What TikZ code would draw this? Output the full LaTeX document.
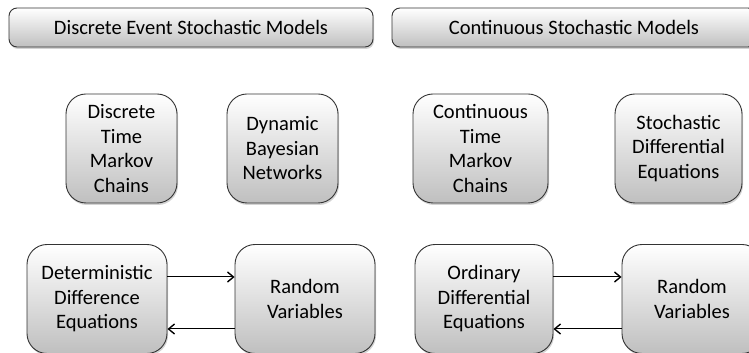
\documentclass[tikz,border=0pt]{standalone}
\usepackage{fontspec}
\setmainfont{Carlito}
\usepackage{tikz}
\usetikzlibrary{shadows,arrows.meta}

\begin{document}
\begin{tikzpicture}[x=1pt,y=1pt]
        \tikzstyle{every node}=[draw=black!80, line width=0.9pt, top color=white, bottom color=black!25,
            drop shadow={shadow xshift=1pt, shadow yshift=-2pt, opacity=0.35},
            text=black, align=center, font=\fontsize{20.5}{24.5}\selectfont]
        \tikzstyle{header}=[rounded corners=8pt, minimum width=364pt, minimum height=39pt]
        \tikzstyle{model}=[rounded corners=20pt, minimum height=109pt]
        \tikzstyle{link}=[draw=black, line width=1pt, -{Straight Barb[length=6pt,width=10pt,line width=1.4pt]}]

        \useasboundingbox (0,0) rectangle (749,353);

        \node (dsm) [header] at (191,325.5) {Discrete Event Stochastic Models};
        \node (csm) [header] at (574,325.5) {Continuous Stochastic Models};

        \node (dtmc) [model, minimum width=111pt] at (121.5,204.5) {Discrete\\Time\\Markov\\Chains};
        \node (dbn)  [model, minimum width=111pt] at (282.5,204.5) {Dynamic\\Bayesian\\Networks};
        \node (ctmc) [model, minimum width=135pt] at (480.5,204.5) {Continuous\\Time\\Markov\\Chains};
        \node (sde)  [model, minimum width=127pt] at (678.5,204.5) {Stochastic\\Differential\\Equations};

        \node (dde) [model, minimum width=140pt] at (97,54) {Deterministic\\Difference\\Equations};
        \node (rv1) [model, minimum width=140pt] at (305,54) {Random\\Variables};
        \node (ode) [model, minimum width=138pt] at (484,54) {Ordinary\\Differential\\Equations};
        \node (rv2) [model, minimum width=140pt] at (692,54) {Random\\Variables};

        \draw[link] ([yshift=22pt]dde.east) -- ([yshift=22pt]rv1.west);
        \draw[link] ([yshift=-30pt]rv1.west) -- ([yshift=-30pt]dde.east);
        \draw[link] ([yshift=22pt]ode.east) -- ([yshift=22pt]rv2.west);
        \draw[link] ([yshift=-30pt]rv2.west) -- ([yshift=-30pt]ode.east);

    \end{tikzpicture}
\end{document}
